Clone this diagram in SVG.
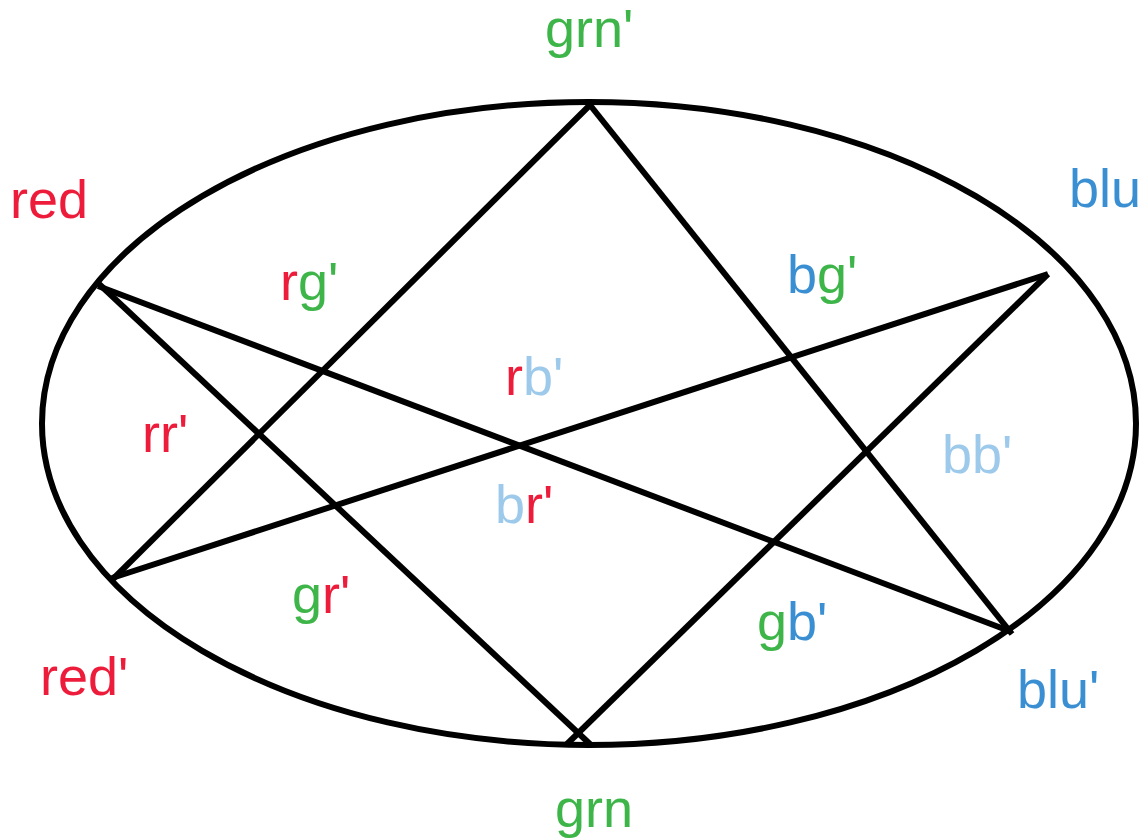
<svg xmlns="http://www.w3.org/2000/svg" width="1148" height="839" viewBox="0 0 1148 839">
<style>
text{font-family:"Liberation Sans",Arial,sans-serif;font-size:54px}
.r{fill:#ED1C3A}.g{fill:#3EB549}.b{fill:#3A8FD2}.lb{fill:#9DC9EB}
.e{fill:none;stroke:#000;stroke-width:6}
.c line{stroke:#000;stroke-width:6;stroke-linecap:butt}
</style>
<rect width="1148" height="839" fill="#fff"/>
<g id="ellipse"><ellipse class="e" cx="589" cy="423.5" rx="547" ry="321.5"/></g>
<g id="connectors" class="c">
<line x1="98" y1="283" x2="591" y2="745"/>
<line x1="98" y1="286" x2="1012" y2="632"/>
<line x1="590" y1="105" x2="112" y2="580"/>
<line x1="590" y1="105" x2="1012" y2="634"/>
<line x1="1048" y1="274" x2="112" y2="578"/>
<line x1="1048" y1="274" x2="566" y2="745"/>
</g>
<g id="n-grnp"><text x="545" y="47" class="g">grn'</text></g>
<g id="n-red"><text x="10" y="218" class="r">red</text></g>
<g id="n-blu"><text x="1069" y="207" class="b">blu</text></g>
<g id="n-redp"><text x="40" y="695" class="r">red'</text></g>
<g id="n-blup"><text x="1017" y="708" class="b">blu'</text></g>
<g id="n-grn"><text x="555" y="827" class="g">grn</text></g>
<g id="l-rg"><text x="280" y="300"><tspan class="r">r</tspan><tspan class="g">g'</tspan></text></g>
<g id="l-bg"><text x="787" y="293"><tspan class="b">b</tspan><tspan class="g">g'</tspan></text></g>
<g id="l-rb"><text x="505" y="395"><tspan class="r">r</tspan><tspan class="lb">b'</tspan></text></g>
<g id="l-br"><text x="495" y="523"><tspan class="lb">b</tspan><tspan class="r">r'</tspan></text></g>
<g id="l-bb"><text x="942" y="473" class="lb">bb'</text></g>
<g id="l-rr"><text x="142" y="452" class="r">rr'</text></g>
<g id="l-gr"><text x="292" y="613"><tspan class="g">g</tspan><tspan class="r">r'</tspan></text></g>
<g id="l-gb"><text x="757" y="640"><tspan class="g">g</tspan><tspan class="b">b'</tspan></text></g>
</svg>
